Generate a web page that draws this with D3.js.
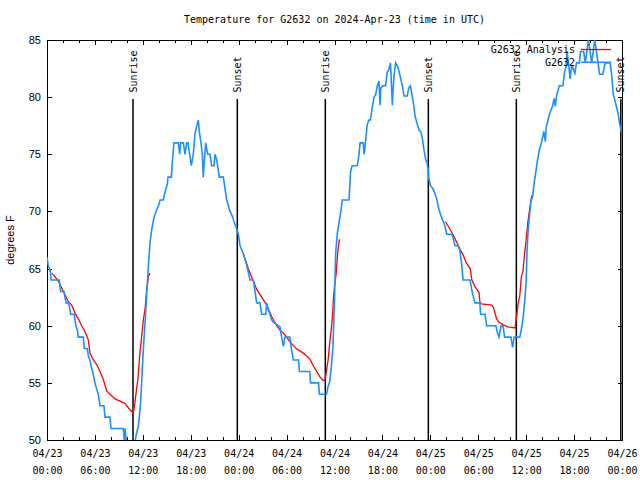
<!DOCTYPE html>
<html>
<head>
<meta charset="utf-8">
<script src="https://cdn.jsdelivr.net/npm/d3@7"></script>
<style>
  body { margin: 0; background: #fff; }
  svg { display: block; }
  .mono { font-family: "DejaVu Sans Mono", monospace; font-size: 10px; fill: #000; }
  .sans { font-family: "Liberation Sans", Arial, sans-serif; font-size: 11px; fill: #000; }
</style>
</head>
<body>
<div id="chart"></div>
<script>
// observed station temps (hours after 04/23 00:00 UTC, degrees F)
const obsHours = [0, 0.15, 0.3, 0.45, 0.5, 1.54, 1.63, 1.7, 2.13, 2.25, 2.38, 2.67, 2.8, 2.96, 3.42, 3.5, 3.63, 3.8, 3.92, 4.55,
  4.67, 5.05, 5.2, 5.38, 5.55, 5.72, 6.0, 6.2, 6.43, 6.63, 7.13, 7.26, 7.89, 8.01, 9.56, 9.68, 9.77, 9.87, 9.97, 10.3,
  10.9, 11.0, 11.22, 11.43, 11.56, 11.73, 11.85, 12.06, 12.27, 12.4, 12.48, 12.69, 12.9, 13.11, 13.4, 13.65, 14.02, 14.15, 14.57, 14.74,
  15.07, 15.15, 15.57, 15.69, 15.9, 16.45, 16.61, 16.74, 17.07, 17.28, 17.49, 17.66, 17.87, 18.07, 18.32, 18.53, 18.83, 18.95, 19.07, 19.28,
  19.45, 19.57, 19.66, 19.87, 20.12, 20.41, 20.62, 20.91, 21.04, 21.25, 21.58, 22.08, 22.29, 22.5, 22.92, 23.25, 23.46, 23.75, 23.96, 24.17,
  24.58, 25.0, 25.42, 25.84, 26.05, 26.25, 26.67, 26.88, 27.4, 27.51, 27.65, 27.92, 28.13, 28.34, 28.97, 29.18, 29.38, 29.6, 29.8, 30.4,
  30.6, 30.85, 31.5, 31.6, 32.9, 33.0, 34.0, 34.1, 35.0, 35.2, 35.4, 35.6, 35.8, 35.9, 36.0, 36.15, 36.36, 36.56, 36.77, 36.98,
  37.82, 37.94, 38.0, 38.2, 38.86, 39.07, 39.2, 39.6, 39.7, 39.8, 39.95, 40.1, 40.3, 40.5, 40.7, 40.95, 41.15, 41.36, 41.57, 41.7,
  41.8, 42.0, 42.4, 42.6, 42.8, 43.0, 43.1, 43.24, 43.37, 43.5, 43.65, 43.9, 44.1, 44.3, 44.5, 44.7, 45.1, 45.3, 45.5, 45.7,
  45.9, 46.1, 46.3, 46.6, 46.8, 47.0, 47.2, 47.4, 47.6, 47.75, 47.8, 48.0, 48.4, 48.8, 49.0, 49.2, 49.4, 49.63, 49.84, 50.05,
  50.7, 50.88, 51.1, 51.5, 51.7, 51.9, 52.1, 52.97, 53.2, 53.4, 53.6, 54.2, 54.3, 54.85, 55.05, 56.2, 56.4, 56.6, 56.85, 57.1,
  57.3, 58.1, 58.3, 58.5, 59.2, 59.4, 59.6, 59.8, 60.0, 60.1, 60.2, 60.3, 60.45, 60.6, 60.8, 61.0, 61.2, 61.4, 61.65, 61.9,
  62.1, 62.2, 62.4, 62.5, 62.7, 62.9, 63.3, 63.5, 63.65, 63.8, 64.15, 64.6, 64.8, 65.0, 65.1, 65.3, 65.5, 65.7, 66.1, 66.3,
  66.66, 66.8, 67.2, 67.4, 67.6, 67.8, 68.0, 68.2, 68.4, 68.6, 68.8, 69.0, 69.2, 69.6, 69.9, 70.5, 70.7, 70.9, 71.1, 71.3,
  71.5, 71.7, 71.9, 72.0];
const obsTemps = [66, 65.3, 65, 64.6, 64, 64, 63.4, 63, 63, 62.5, 62, 62, 61.7, 61, 61, 60.5, 60, 59.6, 59, 59,
  58, 58, 57.3, 57, 56.4, 56, 55, 54.5, 54, 53, 53, 52, 52, 51, 51, 50, 51, 50.3, 49.5, 49,
  49, 49.8, 50.6, 51.2, 52, 53.4, 55, 57.9, 60.2, 61.7, 62.8, 65.2, 67.3, 68.4, 69.5, 70, 70.6, 71, 71, 71.6,
  72.4, 73, 73, 74.3, 76, 76, 75, 76, 76, 75, 76, 76, 75, 74, 75, 76.8, 77.7, 78, 77, 76,
  75, 73, 74, 76, 75, 75, 74, 74, 75, 74.5, 73, 73, 72, 71, 70, 69.5, 69, 68.5, 68, 67,
  66.3, 65.3, 64, 64, 63, 62, 62, 61, 61, 62, 61.5, 61, 60.5, 60.3, 60, 59.9, 59, 58.2, 59, 59,
  58, 57, 57, 56, 56, 55, 55, 54, 54, 54.7, 55.1, 56.4, 58, 60.2, 62.2, 66.4, 68.1, 69, 69.9, 71,
  71, 72.5, 73.4, 74, 74, 75, 76, 76, 75, 75.5, 76.6, 77.6, 78, 78, 79, 80, 80.2, 81, 81.4, 79.3,
  80.8, 81, 81, 82.2, 82.4, 83, 81.6, 79.3, 81, 82.2, 83, 82.7, 82.2, 81.6, 81, 80.1, 80.1, 80.8, 81, 80.2,
  79.4, 78.3, 77.8, 77.1, 77, 76.4, 75.4, 74.6, 74.2, 73.6, 72.9, 72.3, 71.9, 71.1, 70.4, 69.9, 69.5, 69.1, 68.7, 68,
  68, 67.6, 67, 67, 66.6, 65.5, 64, 64, 63.1, 62.5, 62, 62, 61, 61, 60, 60, 59.4, 59, 60, 60,
  59, 59, 58.1, 59, 59, 59.7, 60.6, 62, 63.8, 66.4, 67.8, 68.8, 69.9, 70.9, 71.3, 72.5, 73.4, 74.4, 75.4, 76,
  76.6, 77, 76.1, 77.3, 77.9, 78.5, 79.2, 79.9, 79.2, 80.1, 81, 81, 82.1, 82.7, 84, 83, 81.6, 82.8, 82.1, 83,
  83, 84, 84, 83, 84, 85, 84, 83, 84, 85, 84, 83, 82, 82, 83, 83, 82, 80.3, 79.7, 79.2,
  78.6, 77.7, 77, 77];

// analysis temps, null = gap between nightly runs
const anaHours = [0.58, 1.0, 1.42, 1.84, 2.25, 2.67, 3.09, 3.51, 3.92, 4.34, 4.76, 5.17, 5.38, 5.8, 6.22, 6.64, 7.05, 7.47, 7.89, 8.52,
  9.14, 9.77, 10.2, 10.6, 10.8, 11.0, 11.2, 11.4, 11.6, 11.8, 12.06, 12.27, 12.48, 12.7, 12.9, 13.0,
  24.58, 25.2, 25.6, 26.25, 26.88, 27.51, 28.13, 28.76, 29.2, 29.8, 30.4, 31.2, 32.1, 32.9, 33.5, 34.2, 34.6, 34.85, 35.0, 35.2,
  35.4, 35.6, 35.75, 35.85, 36.0, 36.2, 36.4, 36.6, 36.7, 36.8,
  49.9, 50.5, 50.9, 51.3, 51.7, 52.1, 52.5, 53.0, 53.2, 53.6, 54.1, 54.2, 54.4, 55.7, 55.9, 56.3, 56.6, 57.1, 57.7, 58.6,
  58.8, 59.0, 59.2, 59.4, 59.6, 59.8, 60.0, 60.2, 60.4, 60.7];
const anaTemps = [64.6, 64.3, 63.9, 63.3, 62.7, 62.1, 61.8, 61.1, 60.6, 60.0, 59.5, 58.75, 57.6, 57.0, 56.6, 56.0, 55.3, 54.3, 54.0, 53.6,
  53.4, 53.2, 52.8, 52.5, 52.4, 53.2, 54.4, 55.4, 57.4, 58.7, 60.5, 61.4, 63.1, 64.3, 64.6, null,
  66.3, 65.0, 64.3, 63.2, 62.5, 61.8, 60.8, 60.0, 59.6, 59.2, 58.6, 58.0, 57.6, 57.1, 56.3, 55.5, 55.2, 55.3, 56.1, 57.0,
  58.5, 59.7, 60.9, 62.2, 63.5, 64.5, 66.4, 67.5, 67.5, null,
  69.1, 68.4, 67.9, 67.3, 66.7, 66.2, 65.5, 65.0, 64.0, 63.4, 62.9, 62.1, 61.9, 61.8, 61.6, 60.6, 60.3, 60.1, 59.9, 59.8,
  60.8, 62.0, 62.6, 64.3, 64.8, 66.3, 67.5, 69.0, 70.0, 71.4];

const sunHours = [10.77, 23.83, 34.85, 47.75, 58.77, 71.85];
const sunLabels = ["Sunrise", "Sunset", "Sunrise", "Sunset", "Sunrise", "Sunset"];
const yTickValues = [50, 55, 60, 65, 70, 75, 80, 85];
const seriesNames = ["G2632 Analysis", "G2632"];
const chartTitle = "Temperature for G2632 on 2024-Apr-23 (time in UTC)";
const yLabel = "degrees F";

const anaColor = "#ff0000";
const obsColor = "#1e8fff";

const width = 640, height = 480;
const margin = {top: 40, right: 18, bottom: 40, left: 47};
const t0 = Date.UTC(2024, 3, 23);
const toDate = h => new Date(t0 + h * 3600e3);

const svg = d3.select("#chart").append("svg")
  .attr("width", width)
  .attr("height", height);

const x = d3.scaleUtc()
  .domain([toDate(0), toDate(72)])
  .range([margin.left, width - margin.right]);

const y = d3.scaleLinear()
  .domain([50, 85])
  .range([height - margin.bottom, margin.top]);

const plotW = width - margin.left - margin.right;
const plotH = height - margin.top - margin.bottom;

svg.append("clipPath").attr("id", "plotclip")
  .append("rect")
  .attr("x", margin.left).attr("y", margin.top)
  .attr("width", plotW).attr("height", plotH);

// ticks: minor every 2h, major every 6h, on top and bottom, pointing in
const minorTicks = d3.range(0, 73, 2).map(toDate);
const majorTicks = d3.range(0, 73, 6).map(toDate);

svg.append("g")
  .attr("transform", `translate(0,${height - margin.bottom})`)
  .call(d3.axisBottom(x).tickValues(minorTicks).tickSize(-3).tickFormat(""));
svg.append("g")
  .attr("transform", `translate(0,${margin.top})`)
  .call(d3.axisTop(x).tickValues(minorTicks).tickSize(-3).tickFormat(""));
svg.append("g")
  .attr("transform", `translate(0,${margin.top})`)
  .call(d3.axisTop(x).tickValues(majorTicks).tickSize(-5).tickFormat(""));

const fmtDay = d3.utcFormat("%m/%d");
const fmtHour = d3.utcFormat("%H:%M");
const xAxis = svg.append("g")
  .attr("transform", `translate(0,${height - margin.bottom})`)
  .call(d3.axisBottom(x).tickValues(majorTicks).tickSize(-5).tickPadding(0).tickFormat(""));
xAxis.selectAll(".tick").each(function (d) {
  const t = d3.select(this).append("text")
    .attr("class", "mono")
    .attr("text-anchor", "middle");
  t.append("tspan").attr("x", 0).attr("y", 17).text(fmtDay(d));
  t.append("tspan").attr("x", 0).attr("y", 34).text(fmtHour(d));
});

const yAxis = svg.append("g")
  .attr("transform", `translate(${margin.left},0)`)
  .call(d3.axisLeft(y).tickValues(yTickValues).tickSize(-5).tickPadding(6));
yAxis.selectAll("text").attr("class", "sans").attr("font-family", null).attr("font-size", null);
svg.append("g")
  .attr("transform", `translate(${width - margin.right},0)`)
  .call(d3.axisRight(y).tickValues(yTickValues).tickSize(-4).tickFormat(""));

svg.selectAll(".domain").remove();
svg.selectAll(".tick line").attr("stroke", "#000").attr("shape-rendering", "crispEdges");

// frame
svg.append("rect")
  .attr("x", margin.left + 0.5).attr("y", margin.top + 0.5)
  .attr("width", plotW).attr("height", plotH)
  .attr("fill", "none").attr("stroke", "#000")
  .attr("shape-rendering", "crispEdges");

// sunrise / sunset markers
const sun = svg.append("g").selectAll("g")
  .data(sunHours.map((h, i) => ({h, label: sunLabels[i]})))
  .join("g");
sun.append("line")
  .attr("x1", d => x(toDate(d.h))).attr("x2", d => x(toDate(d.h)))
  .attr("y1", 99).attr("y2", height - margin.bottom)
  .attr("stroke", "#000").attr("stroke-width", 1.5);
sun.append("text")
  .attr("class", "mono")
  .attr("transform", d => `translate(${x(toDate(d.h))},92.5) rotate(-90)`)
  .attr("dy", "0.35em")
  .text(d => d.label);

// series
const anaData = anaHours.map((h, i) => ({h, t: anaTemps[i]}));
const obsData = obsHours.map((h, i) => ({h, t: obsTemps[i]}));
const line = d3.line()
  .defined(d => d.t != null)
  .x(d => x(toDate(d.h)))
  .y(d => y(d.t));

const plot = svg.append("g").attr("clip-path", "url(#plotclip)");
plot.append("path").datum(anaData)
  .attr("fill", "none").attr("stroke", anaColor).attr("stroke-width", 1.3)
  .attr("d", line);
plot.append("path").datum(obsData)
  .attr("fill", "none").attr("stroke", obsColor).attr("stroke-width", 1.6)
  .attr("d", line);

// legend
const legend = svg.append("g");
[anaColor, obsColor].forEach((c, i) => {
  const ly = 49.5 + i * 12.8;
  legend.append("text").attr("class", "mono")
    .attr("x", 575).attr("y", ly).attr("dy", "0.35em")
    .attr("text-anchor", "end").text(seriesNames[i]);
  legend.append("line")
    .attr("x1", 581).attr("x2", 611).attr("y1", ly).attr("y2", ly)
    .attr("stroke", c).attr("stroke-width", i === 0 ? 1.3 : 1.6);
});

// title and y label
svg.append("text").attr("class", "mono")
  .attr("x", (margin.left + width - margin.right) / 2).attr("y", 19).attr("dy", "0.35em")
  .attr("text-anchor", "middle").text(chartTitle);

svg.append("text").attr("class", "sans")
  .attr("transform", `translate(10,${margin.top + plotH / 2}) rotate(-90)`)
  .attr("dy", "0.35em").attr("text-anchor", "middle").text(yLabel);
</script>
</body>
</html>
